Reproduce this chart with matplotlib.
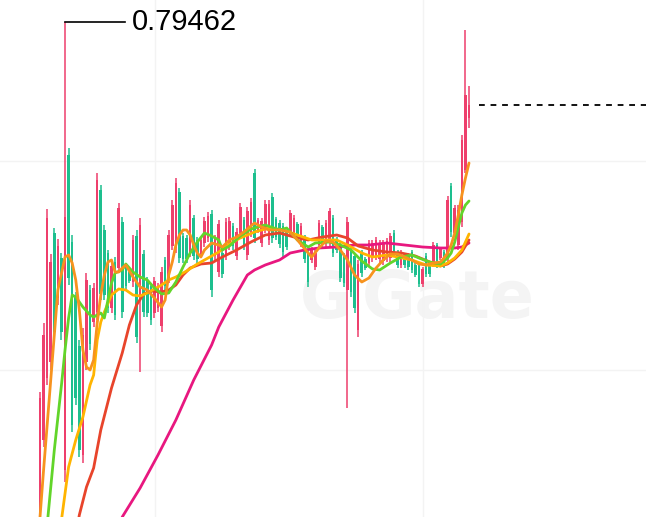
import matplotlib.pyplot as plt
import numpy as np

# candle data (price units), one entry per candle
opens = [0.277, 0.377, 0.439, 0.455, 0.584, 0.519, 0.559, 0.347, 0.662, 0.575,
         0.521, 0.471, 0.362, 0.455, 0.527, 0.495, 0.505, 0.627, 0.587, 0.564,
         0.509, 0.555, 0.549, 0.595, 0.551, 0.548, 0.535, 0.581, 0.517, 0.563,
         0.537, 0.531, 0.504, 0.509, 0.491, 0.557, 0.539, 0.571, 0.569, 0.625,
         0.581, 0.579, 0.565, 0.599, 0.577, 0.563, 0.574, 0.579, 0.603, 0.561,
         0.545, 0.564, 0.562, 0.571, 0.591, 0.561, 0.584, 0.597, 0.562, 0.584,
         0.644, 0.586, 0.574, 0.588, 0.577, 0.620, 0.598, 0.594, 0.591, 0.585,
         0.583, 0.583, 0.593, 0.573, 0.580, 0.564, 0.557, 0.550, 0.572, 0.590,
         0.574, 0.574, 0.599, 0.578, 0.571, 0.561, 0.527, 0.567, 0.561, 0.487,
         0.564, 0.558, 0.554, 0.559, 0.561, 0.558, 0.556, 0.559, 0.559, 0.584,
         0.565, 0.552, 0.562, 0.562, 0.565, 0.552, 0.552, 0.533, 0.561, 0.552,
         0.553, 0.572, 0.559, 0.565, 0.559, 0.631, 0.584, 0.572, 0.595, 0.647,
         0.699]
highs = [0.425, 0.494, 0.608, 0.563, 0.589, 0.578, 0.564, 0.79462, 0.669, 0.582,
         0.525, 0.477, 0.489, 0.544, 0.532, 0.534, 0.644, 0.632, 0.592, 0.567,
         0.555, 0.560, 0.614, 0.600, 0.554, 0.550, 0.582, 0.587, 0.599, 0.567,
         0.540, 0.534, 0.540, 0.534, 0.550, 0.560, 0.587, 0.617, 0.639, 0.629,
         0.584, 0.582, 0.617, 0.602, 0.580, 0.580, 0.600, 0.605, 0.607, 0.582,
         0.597, 0.567, 0.599, 0.600, 0.594, 0.589, 0.614, 0.600, 0.610, 0.619,
         0.648, 0.599, 0.599, 0.617, 0.617, 0.624, 0.600, 0.597, 0.594, 0.587,
         0.607, 0.602, 0.595, 0.594, 0.582, 0.567, 0.570, 0.567, 0.597, 0.592,
         0.597, 0.609, 0.602, 0.580, 0.574, 0.564, 0.600, 0.570, 0.564, 0.557,
         0.567, 0.560, 0.577, 0.577, 0.580, 0.577, 0.577, 0.579, 0.584, 0.587,
         0.567, 0.567, 0.564, 0.564, 0.567, 0.554, 0.554, 0.550, 0.564, 0.554,
         0.575, 0.574, 0.570, 0.567, 0.621, 0.634, 0.612, 0.612, 0.682, 0.787,
         0.731]
lows = [0.272, 0.370, 0.432, 0.447, 0.477, 0.512, 0.477, 0.335, 0.532, 0.385,
        0.412, 0.360, 0.354, 0.447, 0.467, 0.490, 0.497, 0.517, 0.517, 0.504,
        0.504, 0.497, 0.544, 0.499, 0.527, 0.534, 0.530, 0.474, 0.445, 0.500,
        0.500, 0.492, 0.499, 0.505, 0.485, 0.527, 0.534, 0.567, 0.564, 0.554,
        0.554, 0.554, 0.560, 0.557, 0.554, 0.560, 0.570, 0.575, 0.520, 0.557,
        0.540, 0.539, 0.557, 0.567, 0.567, 0.557, 0.580, 0.567, 0.557, 0.580,
        0.574, 0.584, 0.570, 0.584, 0.572, 0.574, 0.577, 0.569, 0.560, 0.567,
        0.580, 0.580, 0.580, 0.570, 0.554, 0.530, 0.554, 0.547, 0.569, 0.570,
        0.570, 0.570, 0.560, 0.564, 0.535, 0.530, 0.409, 0.520, 0.504, 0.480,
        0.540, 0.547, 0.550, 0.555, 0.557, 0.554, 0.552, 0.555, 0.555, 0.560,
        0.549, 0.549, 0.549, 0.547, 0.544, 0.540, 0.530, 0.530, 0.540, 0.540,
        0.550, 0.549, 0.557, 0.549, 0.554, 0.580, 0.580, 0.567, 0.590, 0.644,
        0.689]
closes = [0.419, 0.482, 0.599, 0.555, 0.485, 0.571, 0.485, 0.600, 0.539, 0.392,
          0.419, 0.367, 0.482, 0.537, 0.473, 0.529, 0.637, 0.523, 0.522, 0.509,
          0.551, 0.502, 0.609, 0.505, 0.531, 0.536, 0.577, 0.480, 0.592, 0.505,
          0.504, 0.497, 0.536, 0.530, 0.545, 0.531, 0.582, 0.612, 0.634, 0.559,
          0.558, 0.558, 0.612, 0.561, 0.558, 0.577, 0.596, 0.601, 0.527, 0.579,
          0.593, 0.543, 0.595, 0.596, 0.571, 0.585, 0.610, 0.571, 0.606, 0.615,
          0.579, 0.597, 0.596, 0.613, 0.613, 0.579, 0.580, 0.573, 0.565, 0.570,
          0.604, 0.599, 0.583, 0.591, 0.558, 0.535, 0.568, 0.564, 0.594, 0.573,
          0.594, 0.606, 0.564, 0.567, 0.539, 0.534, 0.595, 0.525, 0.509, 0.553,
          0.544, 0.549, 0.574, 0.574, 0.577, 0.574, 0.574, 0.576, 0.581, 0.564,
          0.552, 0.565, 0.552, 0.550, 0.547, 0.542, 0.533, 0.548, 0.543, 0.543,
          0.572, 0.552, 0.568, 0.552, 0.617, 0.585, 0.609, 0.607, 0.677, 0.722,
          0.712]

# moving average lines, sampled at candle positions
ma_orange_x = [0, 1, 3, 5, 7, 8, 9, 10, 11, 12, 13, 14, 15, 16, 17, 18, 19, 20, 21, 22,
               23, 24, 26, 28, 30, 32, 34, 35, 36, 37, 38, 39, 40, 41, 42, 43, 44, 45,
               46, 48, 50, 51, 53, 55, 57, 59, 60, 62, 64, 67, 70, 72, 75, 76, 78, 80,
               82, 84, 86, 88, 90, 92, 94, 96, 98, 100, 102, 104, 106, 108, 110, 112,
               113, 114, 115, 116, 117, 118, 119, 120]
ma_orange = [0.300, 0.347, 0.437, 0.527, 0.560, 0.562, 0.554, 0.537, 0.507, 0.467,
             0.450, 0.447, 0.457, 0.494, 0.522, 0.542, 0.555, 0.557, 0.545, 0.545,
             0.549, 0.552, 0.540, 0.530, 0.527, 0.519, 0.510, 0.517, 0.542, 0.555,
             0.572, 0.582, 0.587, 0.587, 0.582, 0.572, 0.564, 0.560, 0.567, 0.574,
             0.572, 0.570, 0.577, 0.580, 0.585, 0.591, 0.594, 0.590, 0.587, 0.587,
             0.585, 0.577, 0.564, 0.560, 0.569, 0.576, 0.575, 0.567, 0.557, 0.542,
             0.535, 0.539, 0.549, 0.557, 0.563, 0.563, 0.560, 0.557, 0.553, 0.552,
             0.554, 0.555, 0.559, 0.564, 0.572, 0.584, 0.602, 0.622, 0.639, 0.654]

ma_lime_x = [2, 4, 6, 7, 8, 9, 10, 12, 14, 15, 17, 18, 19, 20, 21, 23, 24, 26, 28, 30,
             32, 34, 36, 38, 40, 42, 44, 46, 48, 50, 51, 53, 56, 59, 63, 67, 69, 72,
             75, 77, 81, 84, 87, 90, 93, 95, 98, 101, 104, 106, 109, 112, 114, 115,
             116, 117, 118, 119, 120]
ma_lime = [0.292, 0.367, 0.432, 0.467, 0.499, 0.522, 0.520, 0.510, 0.502, 0.500,
           0.504, 0.499, 0.517, 0.534, 0.544, 0.547, 0.553, 0.545, 0.540, 0.537,
           0.529, 0.523, 0.524, 0.535, 0.550, 0.564, 0.575, 0.584, 0.581, 0.577,
           0.567, 0.571, 0.581, 0.588, 0.592, 0.587, 0.589, 0.577, 0.570, 0.574,
           0.575, 0.572, 0.567, 0.556, 0.548, 0.547, 0.554, 0.560, 0.562, 0.559,
           0.555, 0.553, 0.559, 0.564, 0.575, 0.590, 0.604, 0.612, 0.616]

ma_yellow_x = [6, 8, 10, 12, 14, 15, 16, 17, 18, 20, 22, 24, 26, 28, 30, 32, 34, 36,
               38, 41, 44, 47, 50, 53, 56, 60, 64, 68, 72, 76, 80, 83, 86, 90, 93, 97,
               100, 104, 108, 112, 114, 116, 118, 119, 120]
ma_yellow = [0.297, 0.350, 0.377, 0.400, 0.432, 0.442, 0.477, 0.495, 0.505, 0.522,
             0.528, 0.527, 0.522, 0.521, 0.524, 0.528, 0.532, 0.537, 0.540, 0.546,
             0.553, 0.559, 0.565, 0.573, 0.579, 0.585, 0.589, 0.587, 0.582, 0.577,
             0.577, 0.577, 0.572, 0.564, 0.560, 0.562, 0.560, 0.557, 0.552, 0.551,
             0.554, 0.559, 0.567, 0.575, 0.583]

ma_red_x = [10, 11, 13, 15, 17, 20, 23, 25, 27, 29, 31, 34, 36, 38, 40, 42, 45, 48,
            51, 55, 59, 63, 67, 71, 75, 79, 83, 86, 89, 93, 97, 101, 105, 109, 112,
            114, 116, 118, 119, 120]
ma_red = [0.282, 0.302, 0.330, 0.349, 0.387, 0.429, 0.464, 0.492, 0.512, 0.523,
          0.526, 0.525, 0.527, 0.532, 0.542, 0.549, 0.553, 0.554, 0.560, 0.567,
          0.575, 0.582, 0.584, 0.580, 0.577, 0.580, 0.582, 0.579, 0.571, 0.567,
          0.565, 0.564, 0.561, 0.555, 0.551, 0.553, 0.558, 0.565, 0.571, 0.577]

ma_magenta_x = [22, 23, 28, 33, 38, 43, 48, 50, 54, 58, 60, 63, 67, 70, 74, 78, 83, 88,
                92, 97, 102, 107, 112, 116, 118, 120]
ma_magenta = [0.277, 0.300, 0.329, 0.362, 0.397, 0.437, 0.472, 0.490, 0.517, 0.542,
              0.547, 0.552, 0.557, 0.564, 0.567, 0.569, 0.570, 0.572, 0.572, 0.574,
              0.572, 0.570, 0.569, 0.569, 0.570, 0.574]

peak_label = "0.79462"

up_color = '#EE3F6C'
down_color = '#1DBF8E'

fig = plt.figure(figsize=(6.46, 5.17), dpi=100)
ax = fig.add_axes([0, 0, 1, 1])

idx = np.arange(len(closes))
o = np.array(opens)
c = np.array(closes)
colors = [up_color if cc >= oo else down_color for oo, cc in zip(o, c)]

ax.vlines(idx, lows, highs, colors=colors, linewidth=1.1, zorder=2)
ax.bar(idx, np.abs(c - o), bottom=np.minimum(o, c), width=0.72, color=colors,
       linewidth=0, zorder=2)

ax.plot(ma_magenta_x, ma_magenta, color='#E8177F', lw=2.0, zorder=3, solid_capstyle='round')
ax.plot(ma_red_x, ma_red, color='#E8442B', lw=2.0, zorder=4, solid_capstyle='round')
ax.plot(ma_yellow_x, ma_yellow, color='#FFB400', lw=2.0, zorder=4, solid_capstyle='round')
ax.plot(ma_lime_x, ma_lime, color='#62D52A', lw=2.0, zorder=5, solid_capstyle='round')
ax.plot(ma_orange_x, ma_orange, color='#F7931E', lw=2.0, zorder=5, solid_capstyle='round')

# peak marker
peak_i = int(np.argmax(highs))
ax.plot([peak_i, peak_i + 16.8], [highs[peak_i]] * 2, color='black', lw=1.2, zorder=6)
ax.text(peak_i + 18.8, highs[peak_i], peak_label, fontsize=21, family='Liberation Sans',
        va='center', ha='left', zorder=6)

# last price line
ax.hlines(closes[-1], len(closes) + 1.7, 175, colors='black', linestyles=(0, (3.2, 3.2)),
          lw=1.3, zorder=6)

# watermark
ax.text(0.56, 0.42, "Gate", transform=ax.transAxes, fontsize=47, fontweight='bold',
        color='#F4F4F4', ha='left', va='center', family='DejaVu Sans', zorder=0)
ax.text(0.505, 0.42, "G", transform=ax.transAxes, fontsize=46, fontweight='bold',
        color='#F4F4F4', ha='center', va='center', family='DejaVu Sans', zorder=0)

ax.set_xlim(-11.19, 169.5)
ax.set_ylim(0.300, 0.817)
ax.set_xticks([32.17, 107.13])
ax.set_yticks([0.447, 0.656])
ax.grid(True, color='#F3F3F3', lw=1)
ax.set_axisbelow(True)
ax.tick_params(length=0, labelbottom=False, labelleft=False)
for s in ax.spines.values():
    s.set_visible(False)

fig.savefig('out.png', dpi=100)
